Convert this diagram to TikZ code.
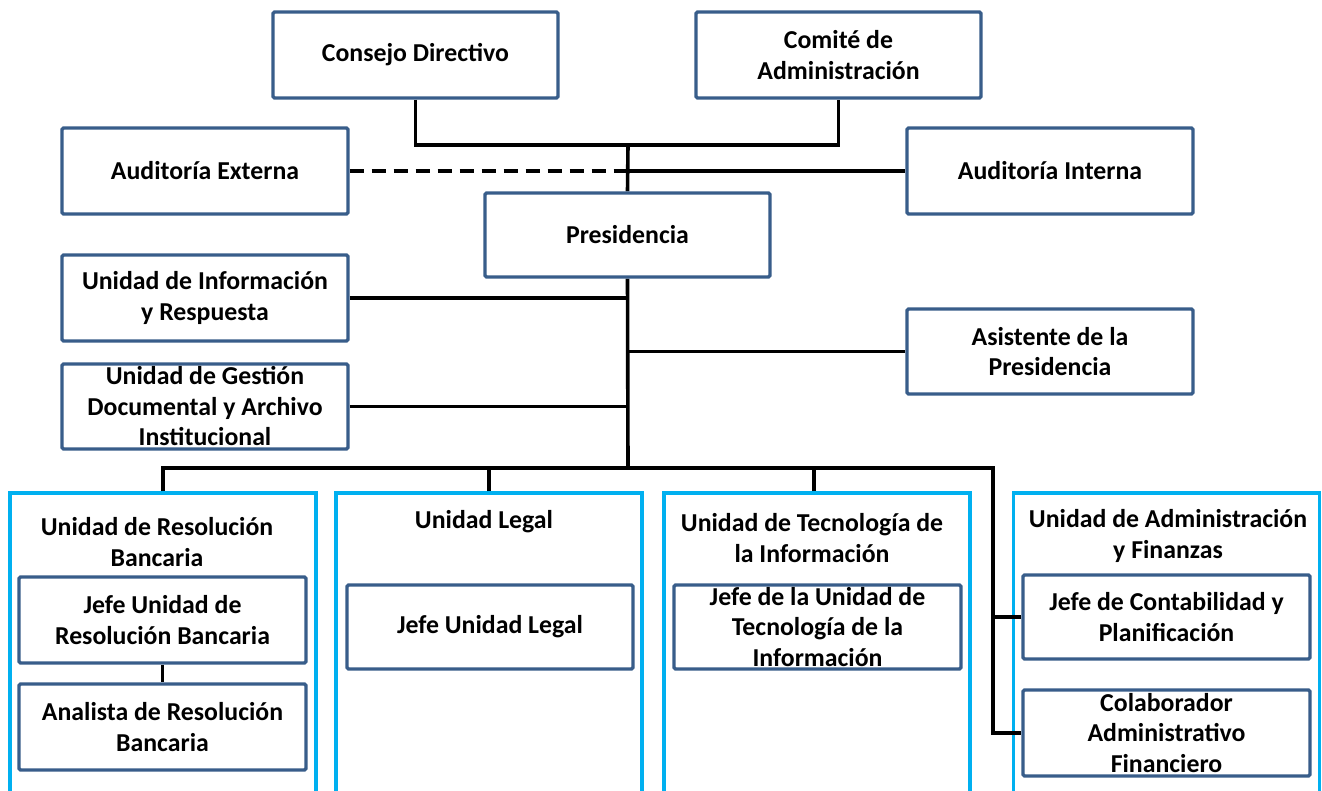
\documentclass[tikz,border=0pt]{standalone}
\usepackage{fontspec}
\setmainfont{Carlito}
\definecolor{navyb}{RGB}{56,93,138}
\definecolor{cyanb}{RGB}{0,176,240}
\pgfdeclarelayer{backfill}
\pgfdeclarelayer{contl}
\pgfdeclarelayer{bg}
\pgfsetlayers{backfill,contl,bg,main}
\newcommand\bx[6]{%
  \node[box, minimum width=#4pt, minimum height=#5pt] (#1) at (#2,#3) {};
  \node[txt] (#1-t) at (#1.center) {#6};}
\begin{document}
\begin{tikzpicture}[x=1pt,y=-1pt,
  box/.style={draw=navyb, line width=3.3pt, fill=white, rounded corners=1.5pt, inner sep=0pt},
  cont/.style={draw=cyanb, line width=3.3pt, inner sep=0pt, minimum width=306pt, minimum height=420pt},
  txt/.style={align=center, font=\fontsize{25.8}{30.5}\selectfont\bfseries, inner sep=0pt, text=black},
  conn/.style={line width=3.6pt, draw=black}]
\useasboundingbox (0,0) rectangle (1322,791);
\clip (0,0) rectangle (1322,791);
\begin{pgfonlayer}{backfill}
\fill[white] (0,0) rectangle (1322,791);
\end{pgfonlayer}
% containers
\begin{pgfonlayer}{contl}
\node[cont] (c1) at (163,703) {};
\node[cont] (c2) at (489,703) {};
\node[cont] (c3) at (817,703) {};
\node[cont] (c4) at (1166.5,703) {};
\end{pgfonlayer}
\node[txt] (c1-t) at (157,542) {Unidad de Resolución\\Bancaria};
\node[txt] (c2-t) at (484,522) {Unidad Legal};
\node[txt] (c3-t) at (812,538) {Unidad de Tecnología de\\la Información};
\node[txt] (c4-t) at (1168,536) {Unidad de Administración\\y Finanzas};
% boxes
\bx{cd}{415.5}{55}{285}{86}{Consejo Directivo}
\bx{ca}{838.5}{55}{285}{86}{Comité de\\Administración}
\bx{ae}{205}{171}{286}{86}{Auditoría Externa}
\bx{ai}{1050}{171}{286}{86}{Auditoría Interna}
\bx{pres}{627.5}{235}{285}{84}{Presidencia}
\bx{uir}{205}{298}{286}{86}{Unidad de Información\\y Respuesta}
\bx{ap}{1050}{351.5}{286}{85}{Asistente de la\\Presidencia}
\bx{ugd}{205}{406.5}{286}{85}{Unidad de Gestión\\Documental y Archivo\\Institucional}
\bx{jr}{162.5}{620}{287}{86}{Jefe Unidad de\\Resolución Bancaria}
\bx{an}{162.5}{727}{287}{86}{Analista de Resolución\\Bancaria}
\bx{jl}{490}{627}{286}{84}{Jefe Unidad Legal}
\bx{jt}{817.5}{627}{287}{84}{Jefe de la Unidad de\\Tecnología de la\\Información}
\bx{jc}{1166.5}{617}{287}{84}{Jefe de Contabilidad y\\Planificación}
\bx{co}{1166.5}{733}{287}{86}{Colaborador\\Administrativo\\Financiero}
% connectors
\coordinate (top) at (628,145);
\coordinate (bus) at (628,468);
\coordinate (busR) at (993,468);
\begin{pgfonlayer}{bg}
\draw[conn] (cd.south) |- (top) -| (ca.south);
\draw[conn] (top) -- (pres.north);
\draw[conn] (pres.south) -- (bus);
\draw[conn, dash pattern=on 14pt off 8pt] (ae.east) -- (ae.east -| top);
\draw[conn] (ae.east -| top) -- (ai.west);
\draw[conn] (uir.east) -- (uir.east -| bus);
\draw[conn] (ap.west) -- (ap.west -| bus);
\draw[conn] (ugd.east) -- (ugd.east -| bus);
\draw[conn] (c1.north) |- (busR) |- (co.west);
\draw[conn] (c2.north) -- (c2.north |- bus);
\draw[conn] ([xshift=-3pt]c3.north) -- ([xshift=-3pt]c3.north |- bus);
\draw[conn] (jc.west) -- (jc.west -| busR);
\draw[conn] (jr.south) -- (an.north);
\end{pgfonlayer}
\end{tikzpicture}
\end{document}
